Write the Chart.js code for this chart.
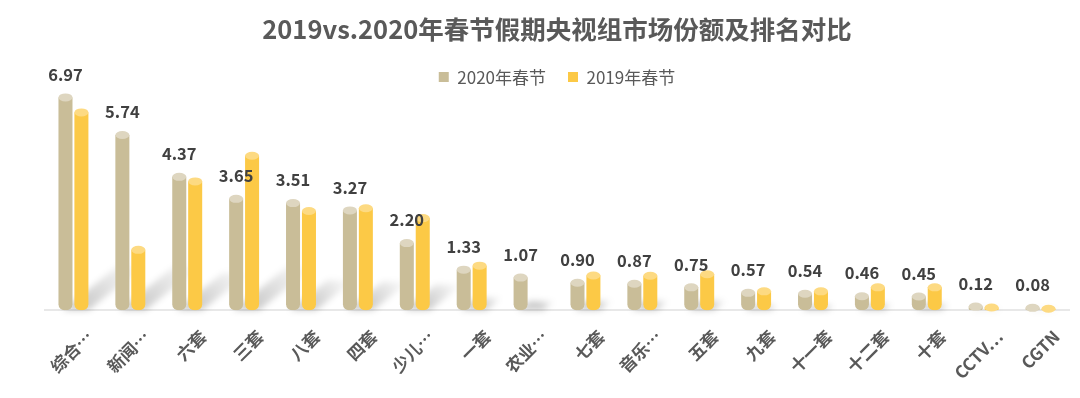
<!DOCTYPE html>
<html>
<head>
<meta charset="utf-8">
<script src="https://cdn.jsdelivr.net/npm/chart.js@4.4.1/dist/chart.umd.min.js"></script>
<style>
  html, body { margin: 0; padding: 0; background: #fff; }
  #wrap { width: 1080px; height: 398px; position: relative; }
</style>
</head>
<body>
<div id="wrap"><canvas id="shareChart"></canvas></div>
<script>
// --- data ---
const channels = ['综合…', '新闻…', '六套', '三套', '八套', '四套', '少儿…', '一套', '农业…',
    '七套', '音乐…', '五套', '九套', '十一套', '十二套', '十套', 'CCTV…', 'CGTN'];
const share2020 = [6.97, 5.74, 4.37, 3.65, 3.51, 3.27, 2.20, 1.33, 1.07,
    0.90, 0.87, 0.75, 0.57, 0.54, 0.46, 0.45, 0.12, 0.08];
const share2019 = [6.48, 1.98, 4.22, 5.06, 3.25, 3.34, 3.02, 1.46, 0,
    1.14, 1.13, 1.18, 0.62, 0.62, 0.75, 0.75, 0.09, 0.05];

const FONT = '"Microsoft YaHei", "Noto Sans CJK SC", sans-serif';
const colors = {
    c2020: '#C9BD98', top2020: '#DED6C0',
    c2019: '#FCC946', top2019: '#FDDA82'
};

// 柱子陰影 (斜向灰影)
const shadowPlugin = {
    id: 'barShadow',
    beforeDatasetsDraw(chart) {
        const ctx = chart.ctx;
        const base = chart.scales.y.getPixelForValue(0);
        ctx.save();
        ctx.filter = 'blur(3px)';
        const m0 = chart.getDatasetMeta(0).data;
        const m1 = chart.getDatasetMeta(1).data;
        m0.forEach((bar, i) => {
            const b2 = m1[i];
            const top = Math.min(bar.y, b2.y);
            const h = base - top;
            const dx = Math.min(h * 0.35, 55);
            const dy = dx * 0.8;
            const x0 = bar.x - bar.width / 2;
            const x1 = b2.x + b2.width / 2;
            const g = ctx.createLinearGradient(x1, base, x1 + dx, base - dy);
            g.addColorStop(0, 'rgba(0,0,0,0.2)');
            g.addColorStop(1, 'rgba(0,0,0,0)');
            ctx.fillStyle = g;
            ctx.beginPath();
            ctx.moveTo(x0 + 4, base);
            ctx.lineTo(x1, base);
            ctx.lineTo(x1 + dx, base - dy);
            ctx.lineTo(x0 + 4 + dx, base - dy);
            ctx.closePath();
            ctx.fill();
        });
        ctx.restore();
    }
};

// 圓柱頂部 + 數值標籤
const cylinderPlugin = {
    id: 'cylinderTop',
    afterDatasetsDraw(chart) {
        const ctx = chart.ctx;
        const tops = [colors.top2020, colors.top2019];
        ctx.save();
        [0, 1].forEach(di => {
            const meta = chart.getDatasetMeta(di);
            meta.data.forEach((bar, i) => {
                const v = chart.data.datasets[di].data[i];
                if (!v) return;
                ctx.fillStyle = tops[di];
                ctx.beginPath();
                ctx.ellipse(bar.x, bar.y, bar.width / 2, 4, 0, 0, Math.PI * 2);
                ctx.fill();
            });
        });
        const meta0 = chart.getDatasetMeta(0);
        ctx.fillStyle = '#404040';
        ctx.font = 'bold 16.5px ' + FONT;
        ctx.textAlign = 'center';
        ctx.textBaseline = 'middle';
        meta0.data.forEach((bar, i) => {
            ctx.fillText(share2020[i].toFixed(2), bar.x, bar.y - 23);
        });
        ctx.restore();
    }
};

const ctx = document.getElementById('shareChart').getContext('2d');
new Chart(ctx, {
    type: 'bar',
    data: {
        labels: channels,
        datasets: [
            {
                label: '2020年春节',
                data: share2020,
                backgroundColor: colors.c2020,
                borderSkipped: false,
                borderRadius: { topLeft: 0, topRight: 0, bottomLeft: 6, bottomRight: 6 },
                categoryPercentage: 0.56,
                barPercentage: 0.88
            },
            {
                label: '2019年春节',
                data: share2019,
                backgroundColor: colors.c2019,
                borderSkipped: false,
                borderRadius: { topLeft: 0, topRight: 0, bottomLeft: 6, bottomRight: 6 },
                categoryPercentage: 0.56,
                barPercentage: 0.88
            }
        ]
    },
    options: {
        responsive: true,
        maintainAspectRatio: false,
        animation: false,
        layout: { padding: { left: 45, right: 11, top: 0, bottom: 7 } },
        plugins: {
            title: {
                display: true,
                text: '2019vs.2020年春节假期央视组市场份额及排名对比',
                color: '#595959',
                font: { family: FONT, size: 25.5, weight: 'bold' },
                padding: { top: 14, bottom: 2 }
            },
            legend: {
                display: true,
                labels: {
                    color: '#595959',
                    font: { family: FONT, size: 17 },
                    boxWidth: 10,
                    boxHeight: 10,
                    padding: 22
                }
            },
            tooltip: { enabled: false }
        },
        scales: {
            x: {
                grid: { display: false },
                border: { color: '#E8E8E8', width: 2 },
                ticks: {
                    color: '#595959',
                    font: { family: FONT, size: 17, weight: 'bold' },
                    minRotation: 45,
                    maxRotation: 45,
                    labelOffset: 16,
                    padding: 8
                }
            },
            y: {
                display: false,
                min: 0,
                max: 7.03
            }
        }
    },
    plugins: [shadowPlugin, cylinderPlugin]
});
</script>
</body>
</html>
